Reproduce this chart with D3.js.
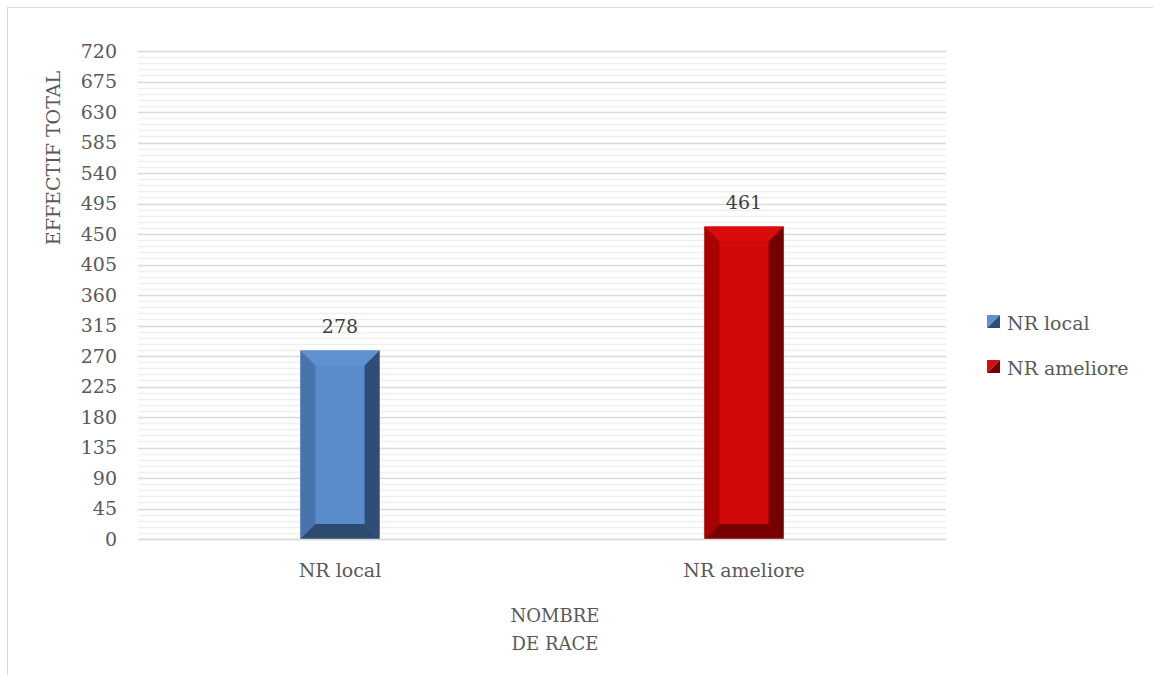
<!DOCTYPE html>
<html><head><meta charset="utf-8">
<script src="https://cdn.jsdelivr.net/npm/d3@7/dist/d3.min.js"></script>
<style>body{margin:0;background:#fff}svg{display:block}</style>
</head><body><svg id="c" width="1153" height="675"></svg>
<script>
const categories = ["NR local", "NR ameliore"];
const values = [278, 461];
const yTicks = [0,45,90,135,180,225,270,315,360,405,450,495,540,585,630,675,720];
const minorStep = 9;
const colors = [
  {face:"#5a8bcb", top:"#5e90d2", left:"#4873ab", right:"#2f4d75", bottom:"#2e4a6f"},
  {face:"#d10909", top:"#d90b0b", left:"#a90202", right:"#730000", bottom:"#780000"}
];
const W=1153,H=675, m={l:138,r:946,t:51,b:539};
const svg=d3.select("#c");
const font="'DejaVu Serif', serif", txt="#595959";
svg.append("rect").attr("x",7.5).attr("y",7.5).attr("width",W).attr("height",H).attr("fill","#fff").attr("stroke","#d9d9d9");
const y=d3.scaleLinear().domain([0,720]).range([m.b,m.t]);
const x=d3.scaleBand().domain(categories).range([m.l,m.r]).paddingInner(0.804).paddingOuter(0.402);
// minor grid
const minor=d3.range(0,720+0.1,minorStep).filter(v=>v%45!==0);
svg.append("g").selectAll("line").data(minor).join("line")
  .attr("x1",m.l).attr("x2",m.r).attr("y1",d=>Math.round(y(d))+0.5).attr("y2",d=>Math.round(y(d))+0.5)
  .attr("stroke","#f0f0f0").attr("stroke-width",1.5);
// major grid
svg.append("g").selectAll("line").data(yTicks).join("line")
  .attr("x1",m.l).attr("x2",m.r).attr("y1",d=>Math.round(y(d))+0.5).attr("y2",d=>Math.round(y(d))+0.5)
  .attr("stroke","#d9d9d9").attr("stroke-width",1.5);
// y axis labels
const ya=svg.append("g").attr("transform",`translate(${m.l},0)`).call(d3.axisLeft(y).tickValues(yTicks).tickSize(0).tickPadding(21));
ya.select(".domain").remove();
ya.selectAll("text").attr("font-family",font).attr("font-size",19).attr("fill",txt);
// x axis labels
const xa=svg.append("g").attr("transform",`translate(0,${m.b})`).call(d3.axisBottom(x).tickSize(0).tickPadding(25));
xa.select(".domain").remove();
xa.selectAll("text").attr("font-family",font).attr("font-size",19).attr("fill",txt);
// bars with bevel
const bev=15;
const bars=svg.append("g").selectAll("g").data(categories).join("g");
bars.each(function(c,i){
  const g=d3.select(this), x0=x(c), x1=x0+x.bandwidth(), y0=y(values[i]), y1=y(0), col=colors[i];
  const poly=(pts,f)=>g.append("polygon").attr("points",pts.map(p=>p.join(",")).join(" ")).attr("fill",f);
  poly([[x0,y0],[x1,y0],[x1,y1],[x0,y1]],col.face);
  poly([[x0,y0],[x1,y0],[x1-bev,y0+bev],[x0+bev,y0+bev]],col.top);
  poly([[x0,y0],[x0+bev,y0+bev],[x0+bev,y1-bev],[x0,y1]],col.left);
  poly([[x1,y0],[x1,y1],[x1-bev,y1-bev],[x1-bev,y0+bev]],col.right);
  poly([[x0,y1],[x0+bev,y1-bev],[x1-bev,y1-bev],[x1,y1]],col.bottom);
  g.append("text").attr("x",(x0+x1)/2).attr("y",y0-18).attr("text-anchor","middle")
    .attr("font-family",font).attr("font-size",19).attr("fill","#404040").text(values[i]);
});
// axis line
svg.append("line").attr("x1",m.l).attr("x2",m.r).attr("y1",m.b+0.5).attr("y2",m.b+0.5).attr("stroke","#d9d9d9").attr("stroke-width",1.5);
// axis titles
svg.append("text").attr("transform","translate(60,158) rotate(-90)").attr("text-anchor","middle")
  .attr("font-family",font).attr("font-size",19).attr("fill",txt).text("EFFECTIF TOTAL");
const xt=svg.append("text").attr("text-anchor","middle").attr("font-family",font).attr("font-size",18).attr("fill",txt);
xt.append("tspan").attr("x",555).attr("y",622).text("NOMBRE");
xt.append("tspan").attr("x",555).attr("y",650).text("DE RACE");
// legend
const lg=svg.append("g").selectAll("g").data(categories).join("g").attr("transform",(d,i)=>`translate(987,${315+i*45})`);
lg.each(function(c,i){
  const g=d3.select(this), s=13, col=colors[i];
  g.append("polygon").attr("points",`0,0 ${s},0 0,${s}`).attr("fill",col.top);
  g.append("polygon").attr("points",`${s},0 ${s},${s} 0,${s}`).attr("fill",col.right);
  g.append("text").attr("x",20).attr("y",s+2).attr("font-family",font).attr("font-size",19).attr("fill",txt).text(c);
});
</script></body></html>
